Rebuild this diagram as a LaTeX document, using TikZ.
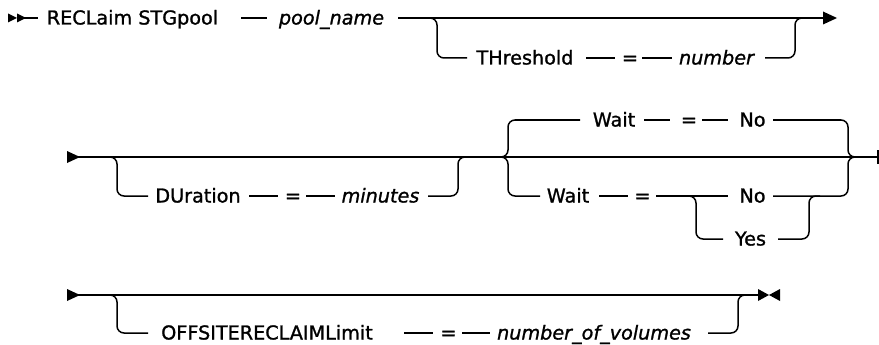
\documentclass[tikz,border=0pt]{standalone}
\usepackage{fontspec}
\setmainfont{DejaVu Sans}[FakeBold=1.2,ItalicFeatures={FakeBold=1.2}]
\begin{document}
\begin{tikzpicture}[x=1pt,y=-1pt,
  rail/.style={line width=1.5pt,rounded corners=7pt},
  railplain/.style={line width=1.5pt},
  kw/.style={anchor=base,inner sep=0pt,font=\fontsize{19.2}{21}\selectfont},
  var/.style={kw,font=\fontsize{19.2}{21}\selectfont\itshape},
  tip/.style={fill=black,draw=none}]
\useasboundingbox (0,0) rectangle (879,345);

% ---------- Row 1 ----------
\fill[tip] (8,13.5) -- (17,18) -- (8,22.5) -- cycle;
\fill[tip] (17,13.5) -- (26,18) -- (17,22.5) -- cycle;
\draw[railplain] (17,18) -- (38,18);
\node[kw] (recl) at (132.5,24.5) {RECLaim STGpool};
\draw[railplain] (241,18) -- (267,18);
\node[var] (pool) at (331.5,24.5) {pool\_name};
\draw[railplain] (398,18) -- (825,18);
\fill[tip] (823,11.5) -- (837,18) -- (823,24.5) -- cycle;
% threshold branch
\draw[rail] (425,18) -| (437,58) -- (467,58);
\node[kw] (thr) at (525,64.5) {THreshold};
\draw[railplain] (586,58) -- (615,58);
\node[kw] (eq1) at (630,64.5) {=};
\draw[railplain] (642,58) -- (672,58);
\node[var] (num) at (716.5,64.5) {number};
\draw[rail] (765,58) -| (795,18) -- (810,18);

% ---------- Row 2 ----------
\fill[tip] (67,151) -- (80,157) -- (67,163) -- cycle;
\draw[railplain] (78,157) -- (878,157);
\draw[railplain] (878,150) -- (878,164);
% duration branch
\draw[rail] (105,157) -| (117,196) -- (148,196);
\node[kw] (dur) at (198,202.5) {DUration};
\draw[railplain] (249,196) -- (278,196);
\node[kw] (eq2) at (293,202.5) {=};
\draw[railplain] (306,196) -- (335,196);
\node[var] (min) at (380.5,202.5) {minutes};
\draw[rail] (428,196) -| (458,157) -- (470,157);
% wait top (default)
\draw[rail] (497,157) -| (508,120) -- (580,120);
\node[kw] (w1) at (614,126.5) {Wait};
\draw[railplain] (644,120) -- (670,120);
\node[kw] (eq3) at (689,126.5) {=};
\draw[railplain] (702,120) -- (728,120);
\node[kw] (no1) at (752.5,126.5) {No};
\draw[rail] (773,120) -| (848,157) -- (862,157);
% wait bottom
\draw[rail] (497,157) -| (508,196) -- (540,196);
\node[kw] (w2) at (568,202.5) {Wait};
\draw[railplain] (599,196) -- (628,196);
\node[kw] (eq4) at (642.5,202.5) {=};
\draw[railplain] (656,196) -- (728,196);
\node[kw] (no2) at (752.5,202.5) {No};
\draw[rail] (773,196) -| (848,157) -- (862,157);
\draw[rail] (684,196) -| (696,239) -- (723,239);
\node[kw] (yes) at (750.5,245.5) {Yes};
\draw[rail] (778,239) -| (809,196) -- (820,196);

% ---------- Row 3 ----------
\fill[tip] (67,289) -- (80,295) -- (67,301) -- cycle;
\draw[railplain] (78,295) -- (759,295);
\draw[rail] (105,295) -| (117,333) -- (148,333);
\node[kw] (off) at (267,339.5) {OFFSITERECLAIMLimit};
\draw[railplain] (404,333) -- (433,333);
\node[kw] (eq5) at (448.5,339.5) {=};
\draw[railplain] (462,333) -- (490,333);
\node[var] (nov) at (594,339.5) {number\_of\_volumes};
\draw[rail] (708,333) -| (738,295) -- (750,295);
\fill[tip] (758,289) -- (769,295) -- (758,301) -- cycle;
\fill[tip] (780,289) -- (769,295) -- (780,301) -- cycle;
\end{tikzpicture}
\end{document}
